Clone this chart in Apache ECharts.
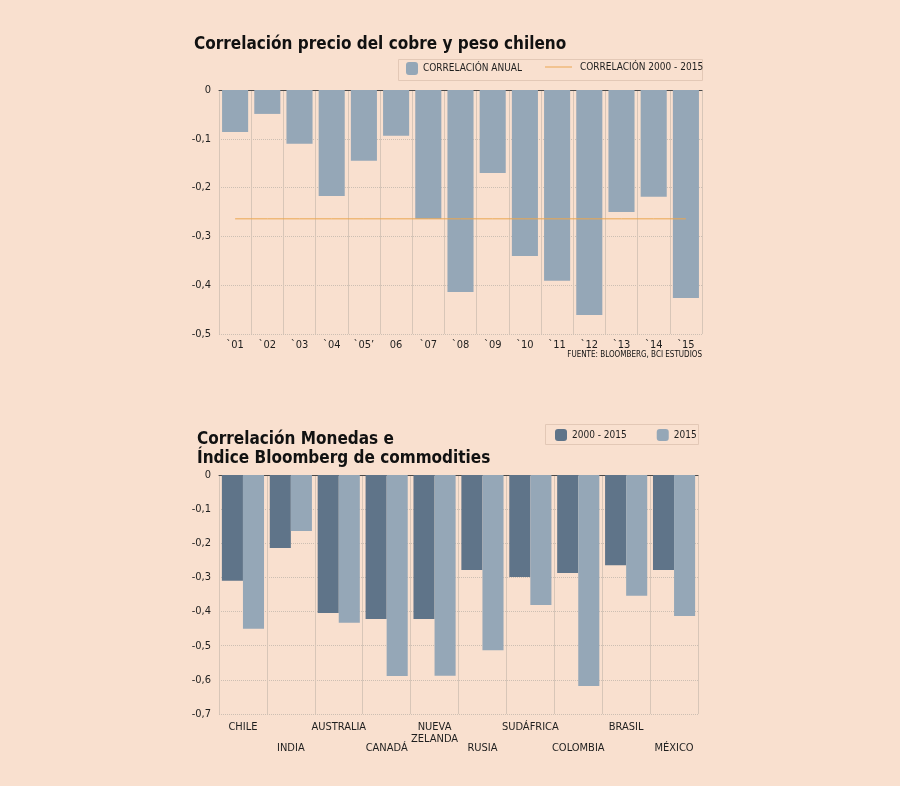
<!DOCTYPE html>
<html>
<head>
<meta charset="utf-8">
<script src="https://cdn.jsdelivr.net/npm/echarts@6/dist/echarts.min.js"></script>
<style>
  html, body { margin: 0; padding: 0; background: #f9e0cf; }
  #main { width: 900px; height: 786px; }
</style>
</head>
<body>
<div id="main"></div>
<script>
// datos grafico 1: correlacion anual cobre / peso
var years = ['`01', '`02', '`03', '`04', '`05\u2019', '06', '`07', '`08', '`09', '`10', '`11', '`12', '`13', '`14', '`15'];
var corrAnual = [-0.086, -0.049, -0.11, -0.217, -0.145, -0.094, -0.264, -0.414, -0.17, -0.34, -0.391, -0.461, -0.25, -0.219, -0.426];
var corrPeriodo = -0.264;

// datos grafico 2: monedas vs indice bloomberg
var monedas = ['CHILE', 'INDIA', 'AUSTRALIA', 'CANADÁ', 'NUEVA\nZELANDA', 'RUSIA', 'SUDÁFRICA', 'COLOMBIA', 'BRASIL', 'MÉXICO'];
var corr2000_2015 = [-0.31, -0.214, -0.404, -0.422, -0.422, -0.278, -0.299, -0.287, -0.264, -0.278];
var corr2015 = [-0.45, -0.164, -0.433, -0.589, -0.588, -0.513, -0.381, -0.618, -0.354, -0.413];

var FONT = 'DejaVu Sans Condensed';
var TXT = '#1e1e1e';
var GRIS_CLARO = '#95a7b7';
var GRIS_OSCURO = '#5f7489';
var NARANJO = '#eba650';

var myChart = echarts.init(document.getElementById('main'));

function fmtNum(v) {
  if (Math.abs(v) < 1e-9) return '0';
  return v.toFixed(1).replace('.', ',');
}

var yBase = {
  type: 'value',
  max: 0,
  interval: 0.1,
  axisLine: { show: false },
  axisTick: { show: false },
  splitLine: { lineStyle: { color: '#cdbfb3', type: 'dotted' } },
  axisLabel: { color: TXT, fontFamily: FONT, fontSize: 11, margin: 8, formatter: fmtNum }
};

var option = {
  backgroundColor: '#f9e0cf',
  animation: false,
  title: [{
    text: 'Correlación precio del cobre y peso chileno',
    left: 189, top: 31,
    textStyle: { fontFamily: FONT, fontSize: 17, fontWeight: 'bold', color: '#111' }
  }, {
    text: 'Correlación Monedas e\nÍndice Bloomberg de commodities',
    left: 192, top: 425,
    textStyle: { fontFamily: FONT, fontSize: 17, fontWeight: 'bold', color: '#111', lineHeight: 19 }
  }],
  legend: [{
    data: ['CORRELACIÓN ANUAL'],
    left: 406, top: 62, padding: 0,
    itemWidth: 12, itemHeight: 13,
    textStyle: { fontFamily: FONT, fontSize: 10, color: TXT }
  }, {
    data: [{ name: 'CORRELACIÓN 2000 - 2015', icon: 'rect' }],
    left: 545, top: 62, padding: 0,
    itemWidth: 27, itemHeight: 1,
    textStyle: { fontFamily: FONT, fontSize: 10, color: TXT, padding: [0, 0, 0, 3] }
  }, {
    data: ['2000 - 2015', '2015'],
    left: 555, top: 429, padding: 0,
    itemWidth: 12, itemHeight: 12, itemGap: 30,
    textStyle: { fontFamily: FONT, fontSize: 10, color: TXT }
  }],
  graphic: [{
    type: 'rect', silent: true,
    shape: { x: 398.5, y: 59.5, width: 304, height: 21 },
    style: { fill: 'none', stroke: '#e3c8b6', lineWidth: 1 }
  }, {
    type: 'rect', silent: true,
    shape: { x: 545.5, y: 424.5, width: 153, height: 20 },
    style: { fill: 'none', stroke: '#e3c8b6', lineWidth: 1 }
  }, {
    type: 'text', silent: true,
    right: 198, top: 351,
    style: { text: 'FUENTE: BLOOMBERG, BCI ESTUDIOS', fontFamily: FONT, fontSize: 8, fill: '#111' }
  }],
  grid: [
    { left: 219, width: 483, top: 90, height: 244 },
    { left: 219, width: 479, top: 475, height: 239 }
  ],
  xAxis: [{
    gridIndex: 0, type: 'category', data: years, position: 'bottom',
    axisLine: { show: false }, axisTick: { show: false },
    splitLine: { show: true, interval: 0, lineStyle: { color: '#d8c6b8', width: 1 } },
    axisLabel: { color: TXT, fontFamily: FONT, fontSize: 11, margin: 6, interval: 0 }
  }, {
    // linea del cero
    gridIndex: 0, type: 'category', data: years, position: 'top',
    axisLine: { show: true, lineStyle: { color: '#4a4a4a', width: 1 } },
    axisTick: { show: false }, axisLabel: { show: false }, splitLine: { show: false }
  }, {
    gridIndex: 1, type: 'category', data: monedas, position: 'bottom',
    axisLine: { show: false }, axisTick: { show: false },
    splitLine: { show: true, interval: 0, lineStyle: { color: '#d8c6b8', width: 1 } },
    axisLabel: {
      color: TXT, fontFamily: FONT, fontSize: 11, margin: 7, interval: 0, lineHeight: 12,
      formatter: function (v, i) { return i % 2 ? '{lo|' + v + '}' : v; },
      rich: { lo: { fontFamily: FONT, fontSize: 11, color: TXT, lineHeight: 12, padding: [42, 0, 0, 0] } }
    }
  }, {
    gridIndex: 1, type: 'category', data: monedas, position: 'top',
    axisLine: { show: true, lineStyle: { color: '#4a4a4a', width: 1 } },
    axisTick: { show: false }, axisLabel: { show: false }, splitLine: { show: false }
  }],
  yAxis: [
    Object.assign({}, yBase, { gridIndex: 0, min: -0.5 }),
    Object.assign({}, yBase, { gridIndex: 1, min: -0.7 })
  ],
  series: [{
    name: 'CORRELACIÓN ANUAL', type: 'bar',
    xAxisIndex: 0, yAxisIndex: 0,
    barCategoryGap: '19%',
    itemStyle: { color: GRIS_CLARO },
    data: corrAnual
  }, {
    name: 'CORRELACIÓN 2000 - 2015', type: 'line',
    xAxisIndex: 0, yAxisIndex: 0,
    symbol: 'none',
    lineStyle: { color: NARANJO, width: 1 },
    itemStyle: { color: NARANJO },
    data: years.map(function () { return corrPeriodo; })
  }, {
    name: '2000 - 2015', type: 'bar',
    xAxisIndex: 2, yAxisIndex: 1,
    barGap: 0, barCategoryGap: '12%',
    itemStyle: { color: GRIS_OSCURO },
    data: corr2000_2015
  }, {
    name: '2015', type: 'bar',
    xAxisIndex: 2, yAxisIndex: 1,
    barGap: 0, barCategoryGap: '12%',
    itemStyle: { color: GRIS_CLARO },
    data: corr2015
  }]
};

myChart.setOption(option);
</script>
</body>
</html>
